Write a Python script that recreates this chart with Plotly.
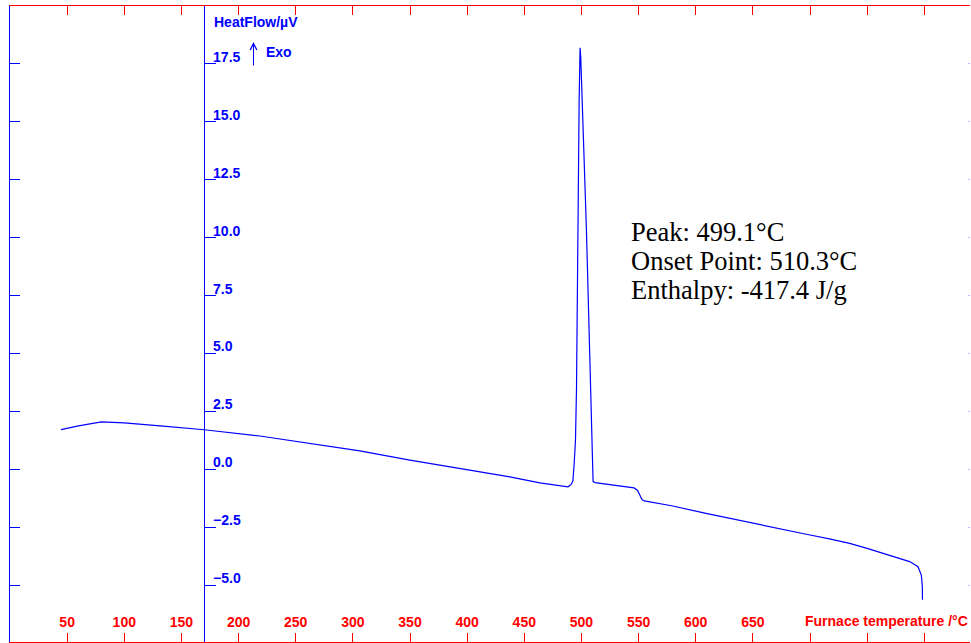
import plotly.graph_objects as go

# Furnace temperature (°C) and heat flow (µV)
temperature = [44.6, 60, 80, 100, 134, 170, 218.7, 262.4, 306.1, 349.9, 393.6, 437.4,
               463.6, 481, 488.3, 491, 492.5, 493.6, 494.8, 495.7, 496.8, 498.0, 498.8,
               499.4, 504.4, 510.2, 512, 530, 546, 549, 551, 553, 555, 580, 609, 638.5,
               667.6, 696.8, 717, 734.7, 750, 763.8, 787.2, 794.5, 797.4, 798.3, 798.4]
heat_flow = [1.72, 1.88, 2.05, 2.01, 1.87, 1.71, 1.44, 1.12, 0.80, 0.40, 0.04, -0.32,
             -0.58, -0.71, -0.75, -0.65, -0.50, 0.20, 1.26, 3.5, 10.3, 15.9, 18.2,
             17.8, 10.3, -0.53, -0.57, -0.68, -0.80, -0.90, -1.10, -1.30, -1.36, -1.58, -1.90, -2.21,
             -2.52, -2.80, -3.00, -3.19, -3.41, -3.62, -3.98, -4.20, -4.56, -5.06, -5.63]

x_tick_vals = [50, 100, 150, 200, 250, 300, 350, 400, 450, 500, 550, 600, 650, 700, 750, 800]
x_tick_text = ["50", "100", "150", "200", "250", "300", "350", "400", "450", "500", "550",
               "600", "650", "", "", ""]
y_tick_vals = [-5.0, -2.5, 0.0, 2.5, 5.0, 7.5, 10.0, 12.5, 15.0, 17.5]
x_range = [0, 840]
y_range = [-7.45, 20]
y_axis_at = 170

info_lines = ["Peak: 499.1°C", "Onset Point: 510.3°C", "Enthalpy: -417.4 J/g"]

BLUE = "#0000FF"
RED = "#FF0000"
W, H = 971, 643
ML, MR, MT, MB = 10, 1, 6, 1
pw, ph = W - ML - MR, H - MT - MB


def px_x(p):
    return (p - ML) / pw


def px_y(p):
    return (H - MB - p) / ph


fig = go.Figure()
fig.add_trace(go.Scatter(x=temperature, y=heat_flow, mode="lines",
                         line=dict(color=BLUE, width=1.2), showlegend=False,
                         hoverinfo="skip"))
# invisible anchors so the overlaid axes are drawn
for xa, ya in [("x", "y2"), ("x", "y3"), ("x2", "y")]:
    fig.add_trace(go.Scatter(x=[temperature[0]], y=[heat_flow[0]], xaxis=xa, yaxis=ya,
                             mode="lines", line=dict(width=0), showlegend=False,
                             hoverinfo="skip"))

lab_font = dict(family="Liberation Sans, Arial", size=14, color=BLUE, weight="bold")
red_font = dict(family="Liberation Sans, Arial", size=14, color=RED, weight="bold")

fig.update_layout(
    width=W, height=H,
    margin=dict(l=ML, r=MR, t=MT, b=MB),
    paper_bgcolor="white", plot_bgcolor="white",
    xaxis=dict(range=x_range, tickvals=x_tick_vals,
               ticks="inside", ticklen=9, tickcolor=RED, tickwidth=1,
               showline=True, linecolor=RED, linewidth=1, mirror="ticks",
               showgrid=False, zeroline=False, showticklabels=False),
    # tick labels of the temperature axis, drawn just above the bottom frame
    xaxis2=dict(range=x_range, tickvals=x_tick_vals, ticktext=x_tick_text,
                overlaying="x", anchor="free", position=px_y(612), side="bottom",
                ticks="", showline=False, showgrid=False, zeroline=False,
                tickfont=red_font),
    yaxis=dict(range=y_range, tickvals=y_tick_vals, ticks="inside", ticklen=10,
               tickcolor=BLUE, showline=True, linecolor=BLUE, linewidth=1,
               showticklabels=False, showgrid=False, zeroline=False),
    yaxis2=dict(range=y_range, tickvals=y_tick_vals, tickformat=".1f",
                overlaying="y", anchor="free", position=y_axis_at / x_range[1],
                side="right", ticks="outside", ticklen=11, tickcolor=BLUE, showline=True,
                linecolor=BLUE, linewidth=1, showgrid=False, zeroline=False,
                ticklabelshift=-7, ticklabelstandoff=-6,
                tickfont=lab_font),
    yaxis3=dict(range=y_range, tickvals=y_tick_vals, overlaying="y", side="right",
                anchor="x", ticks="inside", ticklen=2,
                tickcolor="rgba(110,110,255,0.45)", showline=False,
                showticklabels=False, showgrid=False, zeroline=False),
)

annotations = [
    dict(text="HeatFlow/µV", x=px_x(212), y=px_y(22.5), xref="paper", yref="paper",
         xanchor="left", yanchor="middle", showarrow=False, font=lab_font),
    dict(text="Exo", x=px_x(264), y=px_y(51.5), xref="paper", yref="paper",
         xanchor="left", yanchor="middle", showarrow=False, font=lab_font),
    dict(text="", x=px_x(253.5), y=px_y(42), xref="paper", yref="paper",
         showarrow=True, ax=0, ay=25, arrowhead=5, arrowsize=1.3, arrowwidth=1,
         arrowcolor=BLUE),
    dict(text="Furnace temperature /°C", x=1, y=px_y(621), xref="paper", yref="paper",
         xanchor="right", yanchor="middle", showarrow=False, font=red_font),
]
for i, line in enumerate(info_lines):
    annotations.append(dict(text=line, x=px_x(629), y=px_y(232 + 29 * i),
                            xref="paper", yref="paper", xanchor="left", yanchor="middle",
                            showarrow=False,
                            font=dict(family="Liberation Serif, Times New Roman", size=26.5,
                                      color="black")))
fig.update_layout(annotations=annotations)

fig.write_html("out.html", config={"displayModeBar": False},
               post_script="document.body.style.margin='0px';")
